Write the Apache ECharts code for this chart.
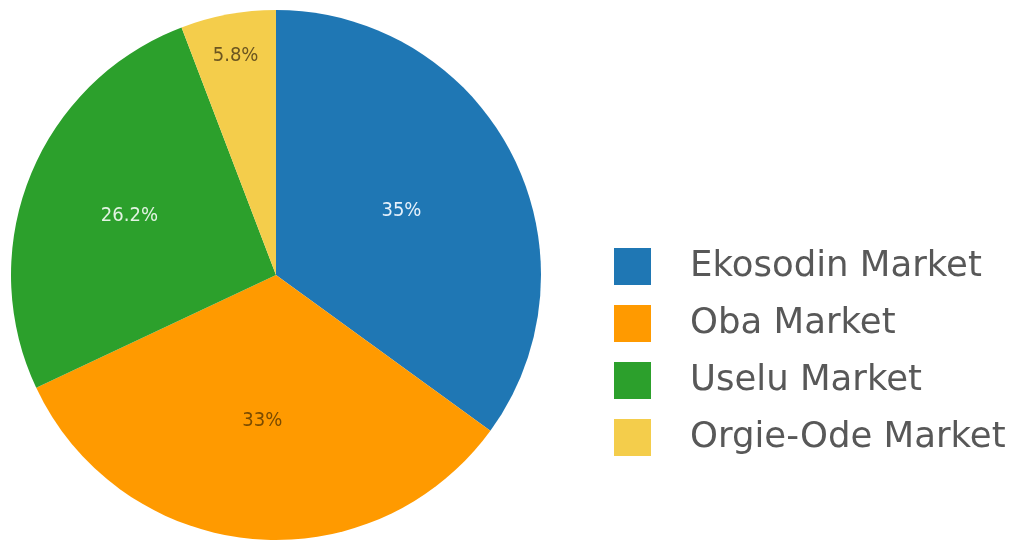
<!DOCTYPE html>
<html>
<head>
<meta charset="utf-8">
<script src="https://cdn.jsdelivr.net/npm/echarts@6/dist/echarts.min.js"></script>
<style>
  html, body { margin: 0; padding: 0; background: #fff; }
  #chart { width: 1018px; height: 544px; }
</style>
</head>
<body>
<div id="chart"></div>
<script>
// Market share by market
const markets = ['Ekosodin Market', 'Oba Market', 'Uselu Market', 'Orgie-Ode Market'];
const shares = [35, 33, 26.2, 5.8];

const sliceColors = ['#1f77b4', '#ff9a00', '#2ca02c', '#f4cd4b'];
const labelColors = ['#e6f1fb', '#7a4b00', '#e3f3e3', '#6b5520'];
// how far out each label sits, as a fraction of the radius
const labelRadius = [0.52, 0.54, 0.585, 0.83];

const center = [276, 275];
const radius = 265;

const total = shares.reduce((a, b) => a + b, 0);
const midAngles = [];
let acc = 0;
shares.forEach(v => {
  midAngles.push((acc + v / 2) / total * Math.PI * 2);
  acc += v;
});

const chart = echarts.init(document.getElementById('chart'), null, { renderer: 'canvas' });
chart.setOption({
  animation: false,
  legend: {
    orient: 'vertical',
    left: 609,
    top: 243,
    itemWidth: 37,
    itemHeight: 37,
    itemGap: 20,
    icon: 'rect',
    selectedMode: false,
    textStyle: {
      fontFamily: 'DejaVu Sans',
      fontSize: 35.5,
      color: '#585858',
      padding: [0, 0, 0, 34]
    },
    data: markets
  },
  series: [{
    type: 'pie',
    center: center,
    radius: radius,
    startAngle: 90,
    clockwise: true,
    silent: true,
    itemStyle: { borderWidth: 0 },
    label: {
      show: true,
      position: 'inside',
      fontFamily: 'DejaVu Sans Condensed',
      fontSize: 20,
      formatter: p => p.value + '%'
    },
    labelLine: { show: false },
    labelLayout: p => {
      const i = p.dataIndex;
      const d = (labelRadius[i] - 0.5) * radius;
      return {
        dx: d * Math.sin(midAngles[i]),
        dy: -d * Math.cos(midAngles[i])
      };
    },
    data: markets.map((name, i) => ({
      name: name,
      value: shares[i],
      itemStyle: { color: sliceColors[i] },
      label: { color: labelColors[i] }
    }))
  }]
});
</script>
</body>
</html>
